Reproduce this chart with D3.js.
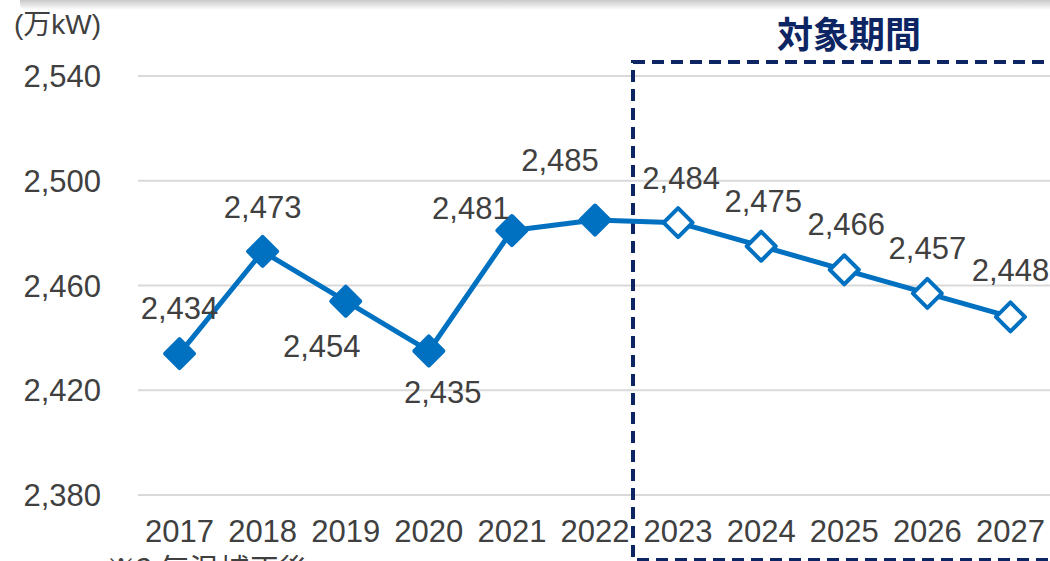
<!DOCTYPE html>
<html><head><meta charset="utf-8">
<script src="https://cdn.jsdelivr.net/npm/d3@7"></script>
<style>
html,body{margin:0;padding:0;background:#fff;overflow:hidden}
svg{display:block;font-family:"Liberation Sans",Arial,sans-serif}
</style></head>
<body><svg id="c" width="1050" height="561"></svg>
<script>
const years = ["2017","2018","2019","2020","2021","2022","2023","2024","2025","2026","2027"];
const values = [2434,2473,2454,2435,2481,2485,2484,2475,2466,2457,2448];
const forecastFrom = "2023";
const yTicks = [2380,2420,2460,2500,2540];
const unitLabel = "(万kW)";
const periodTitle = "対象期間";
const footnote = "※3  気温補正後";
// label offsets (layout only)
const labelOffsets = [[0,-46],[0,-45],[-24,45],[14,41],[-41,-23],[-35,-60],[3,-45],[2,-45],[2,-46],[0,-46],[0,-47]];

const svg = d3.select("#c");
const W = 1050, H = 561;
const x = d3.scaleBand().domain(years).range([138, 1052]);
const y = d3.scaleLinear().domain([2380, 2540]).range([495, 76]);
const cx = d => x(d) + x.bandwidth()/2;

// top shadow
const defs = svg.append("defs");
const g1 = defs.append("linearGradient").attr("id","sh").attr("x1",0).attr("y1",0).attr("x2",0).attr("y2",1);
g1.append("stop").attr("offset","0%").attr("stop-color","#a8a8a8");
g1.append("stop").attr("offset","100%").attr("stop-color","#ffffff");
svg.append("rect").attr("x",20).attr("y",-6).attr("width",1100).attr("height",16).attr("rx",6).attr("fill","url(#sh)");

// grid
svg.append("g").selectAll("line").data(yTicks).join("line")
  .attr("x1",138).attr("x2",W).attr("y1",d=>y(d)).attr("y2",d=>y(d))
  .attr("stroke","#d9d9d9").attr("stroke-width",2);

// y labels
svg.append("g").selectAll("text").data(yTicks).join("text")
  .attr("x",101).attr("y",d=>y(d)).attr("dy","0.36em").attr("text-anchor","end")
  .attr("font-size",31).attr("fill","#404040").text(d=>d3.format(",")(d));

// x labels
svg.append("g").selectAll("text").data(years).join("text")
  .attr("x",d=>cx(d)).attr("y",531).attr("dy","0.36em").attr("text-anchor","middle")
  .attr("font-size",31).attr("fill","#404040").text(d=>d);

// unit
svg.append("text").attr("x",14).attr("y",34).attr("font-size",28).attr("fill","#404040")
  .attr("font-family","'Liberation Sans','Noto Sans CJK JP',sans-serif").text(unitLabel);

// footnote
svg.append("text").attr("x",106).attr("y",580).attr("font-size",30).attr("fill","#404040")
  .attr("font-family","'Noto Sans CJK JP',sans-serif").text(footnote);

// period box
const bx = 633;
svg.append("rect").attr("x",bx).attr("y",62).attr("width",500).attr("height",498)
  .attr("fill","none").attr("stroke","#0d2563").attr("stroke-width",4).attr("stroke-dasharray","12,7");
svg.append("text").attr("x",849).attr("y",48).attr("text-anchor","middle")
  .attr("font-size",36).attr("font-weight","bold").attr("fill","#0d2563")
  .attr("font-family","'Noto Sans CJK JP',sans-serif").text(periodTitle);

// line
const pts = years.map((yr,i)=>({yr, v:values[i], i}));
svg.append("path").datum(pts)
  .attr("d", d3.line().x(d=>cx(d.yr)).y(d=>y(d.v)))
  .attr("fill","none").attr("stroke","#0070c0").attr("stroke-width",5).attr("stroke-linejoin","round");

const fi = years.indexOf(forecastFrom);
const diamond = s => `M0,${-s}L${s},0L0,${s}L${-s},0Z`;
svg.append("g").selectAll("path").data(pts).join("path")
  .attr("transform",d=>`translate(${cx(d.yr)},${y(d.v)})`)
  .attr("d",diamond(14.5))
  .attr("fill",d=>d.i>=fi?"#fff":"#0070c0")
  .attr("stroke","#0070c0").attr("stroke-width",4).attr("stroke-linejoin","round");

// data labels
svg.append("g").selectAll("text").data(pts).join("text")
  .attr("x",d=>cx(d.yr)+labelOffsets[d.i][0]).attr("y",d=>y(d.v)+labelOffsets[d.i][1])
  .attr("dy","0.36em").attr("text-anchor","middle").attr("font-size",31).attr("fill","#404040")
  .text(d=>d3.format(",")(d.v));
</script></body></html>
